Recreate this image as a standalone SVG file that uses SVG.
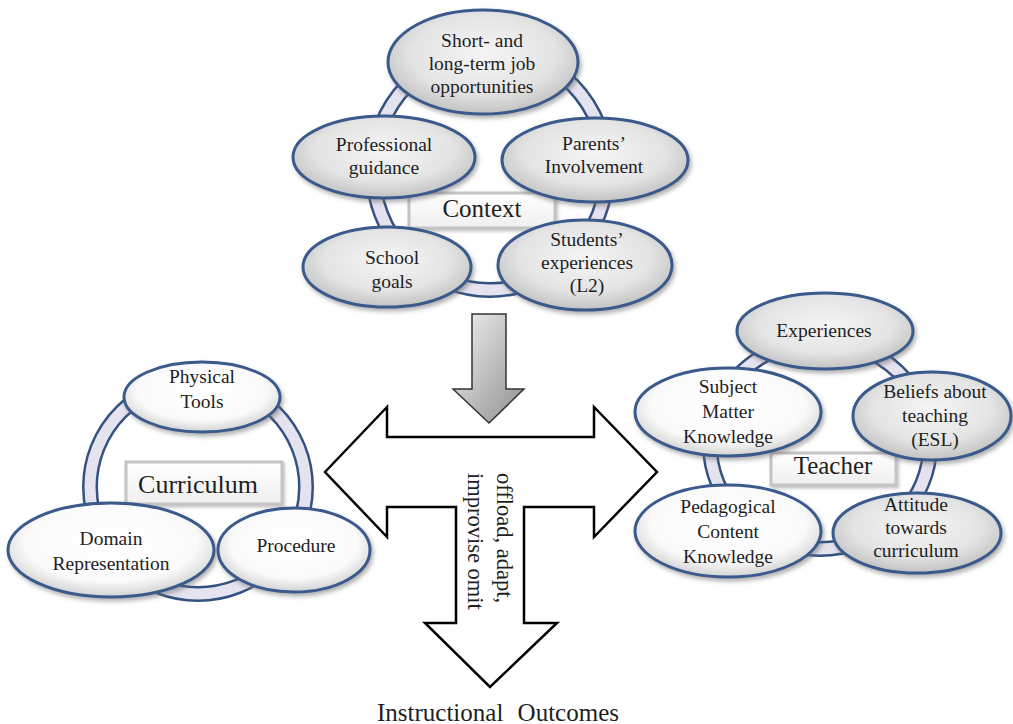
<svg xmlns="http://www.w3.org/2000/svg" width="1013" height="724" viewBox="0 0 1013 724">
<defs>
<radialGradient id="gGray" cx="50%" cy="42%" r="58%">
<stop offset="0" stop-color="#f5f5f5"/>
<stop offset="0.65" stop-color="#e4e4e4"/>
<stop offset="1" stop-color="#c2c2c2"/>
</radialGradient>
<radialGradient id="gWhite" cx="50%" cy="42%" r="58%">
<stop offset="0" stop-color="#ffffff"/>
<stop offset="0.72" stop-color="#fafafa"/>
<stop offset="1" stop-color="#d2d2d2"/>
</radialGradient>
<linearGradient id="gBox" x1="0" y1="0" x2="0" y2="1">
<stop offset="0" stop-color="#ffffff"/>
<stop offset="1" stop-color="#efefef"/>
</linearGradient>
<linearGradient id="gArrow" x1="0" y1="0" x2="1" y2="1">
<stop offset="0" stop-color="#f2f2f2"/>
<stop offset="1" stop-color="#8f8f8f"/>
</linearGradient>
<filter id="sh" x="-20%" y="-20%" width="140%" height="150%">
<feDropShadow dx="2" dy="3" stdDeviation="2.2" flood-color="#666" flood-opacity="0.5"/>
</filter>
<filter id="shs" x="-20%" y="-20%" width="140%" height="150%">
<feDropShadow dx="1.5" dy="2" stdDeviation="1.5" flood-color="#888" flood-opacity="0.5"/>
</filter>
</defs>
<style>
.ringO{fill:none;stroke:#34527f;stroke-width:16}
.ringI{fill:none;stroke:#e6e3f0;stroke-width:11}
.eg{fill:url(#gGray);stroke:#3a5a8c;stroke-width:3;filter:url(#sh)}
.ew{fill:url(#gWhite);stroke:#3a5a8c;stroke-width:3;filter:url(#sh)}
.box{fill:url(#gBox);stroke:#c4c4c4;stroke-width:3;filter:url(#shs)}
text{font-family:"Liberation Serif","Times New Roman",serif;fill:#1e1e1e;text-anchor:middle}
.t{font-size:19.5px}
.h{font-size:25px}
.v{font-size:22.5px;text-anchor:start}
.arrow{fill:#ffffff;stroke:#000;stroke-width:2.5;stroke-linejoin:miter}
</style>

<g id="connectors">
<path class="arrow" d="M325,472 L387,407 L387,437 L594,437 L594,407 L657,472 L594,537 L594,507 L524,507 L524,623 L557,623 L490,687 L425,623 L456,623 L456,507 L387,507 L387,537 Z"/>
<path d="M472,314 L506,314 L506,389 L524,389 L489,423 L453,389 L472,389 Z" fill="url(#gArrow)" stroke="#333" stroke-width="1.5"/>
<text class="v" transform="translate(497,473) rotate(90)">offload, adapt,</text>
<text class="v" transform="translate(468,473) rotate(90)">improvise omit</text>
</g>

<g id="context">
<ellipse class="ringO" cx="490" cy="170" rx="117" ry="120"/>
<ellipse class="ringI" cx="490" cy="170" rx="117" ry="120"/>
<rect class="box" x="409" y="193" width="146" height="35"/>
<text class="h" x="482" y="217">Context</text>
</g>
<g id="ctx-short">
<ellipse class="eg" cx="483" cy="62" rx="95" ry="52"/>
<text class="t" x="482" y="47">Short- and</text>
<text class="t" x="482" y="70">long-term job</text>
<text class="t" x="482" y="93">opportunities</text>
</g>
<g id="ctx-professional">
<ellipse class="eg" cx="384" cy="157" rx="91" ry="41"/>
<text class="t" x="384" y="151">Professional</text>
<text class="t" x="384" y="174">guidance</text>
</g>
<g id="ctx-parents">
<ellipse class="eg" cx="595" cy="160" rx="93" ry="42"/>
<text class="t" x="594" y="150">Parents’</text>
<text class="t" x="594" y="173">Involvement</text>
</g>
<g id="ctx-school">
<ellipse class="eg" cx="387" cy="267" rx="84" ry="40"/>
<text class="t" x="392" y="264">School</text>
<text class="t" x="392" y="288">goals</text>
</g>
<g id="ctx-students">
<ellipse class="eg" cx="585" cy="265" rx="87" ry="45"/>
<text class="t" x="587" y="246">Students’</text>
<text class="t" x="587" y="269">experiences</text>
<text class="t" x="587" y="292">(L2)</text>
</g>

<g id="curriculum">
<ellipse class="ringO" cx="198" cy="487" rx="108" ry="107"/>
<ellipse class="ringI" cx="198" cy="487" rx="108" ry="107"/>
<rect class="box" x="126" y="462" width="156" height="42"/>
<text class="h" x="198" y="493" style="font-size:26px">Curriculum</text>
</g>
<g id="cur-physical">
<ellipse class="ew" cx="202" cy="397" rx="78" ry="35"/>
<text class="t" x="202" y="383">Physical</text>
<text class="t" x="202" y="408">Tools</text>
</g>
<g id="cur-domain">
<ellipse class="ew" cx="111" cy="550" rx="103" ry="47"/>
<text class="t" x="111" y="545">Domain</text>
<text class="t" x="111" y="570">Representation</text>
</g>
<g id="cur-procedure">
<ellipse class="ew" cx="294" cy="550" rx="76" ry="42"/>
<text class="t" x="296" y="552">Procedure</text>
</g>

<g id="teacher">
<ellipse class="ringO" cx="820" cy="445" rx="110" ry="104"/>
<ellipse class="ringI" cx="820" cy="445" rx="110" ry="104"/>
<rect class="box" x="771" y="453" width="125" height="32"/>
<text class="h" x="833" y="474">Teacher</text>
</g>
<g id="tch-experiences">
<ellipse class="eg" cx="825" cy="331" rx="88" ry="38"/>
<text class="t" x="824" y="337">Experiences</text>
</g>
<g id="tch-subject">
<ellipse class="ew" cx="728" cy="412" rx="93" ry="44"/>
<text class="t" x="728" y="393">Subject</text>
<text class="t" x="728" y="418">Matter</text>
<text class="t" x="728" y="443">Knowledge</text>
</g>
<g id="tch-beliefs">
<ellipse class="eg" cx="932" cy="416" rx="79" ry="44"/>
<text class="t" x="935" y="398">Beliefs about</text>
<text class="t" x="935" y="422">teaching</text>
<text class="t" x="935" y="446">(ESL)</text>
</g>
<g id="tch-pedagogical">
<ellipse class="ew" cx="728" cy="531" rx="93" ry="46"/>
<text class="t" x="728" y="513">Pedagogical</text>
<text class="t" x="728" y="538">Content</text>
<text class="t" x="728" y="563">Knowledge</text>
</g>
<g id="tch-attitude">
<ellipse class="eg" cx="917" cy="533" rx="84" ry="40"/>
<text class="t" x="916" y="511">Attitude</text>
<text class="t" x="916" y="534">towards</text>
<text class="t" x="916" y="557">curriculum</text>
</g>

<g id="outcomes">
<text x="377" y="721" style="font-size:25px;text-anchor:start;word-spacing:8px">Instructional Outcomes</text>
</g>
</svg>
